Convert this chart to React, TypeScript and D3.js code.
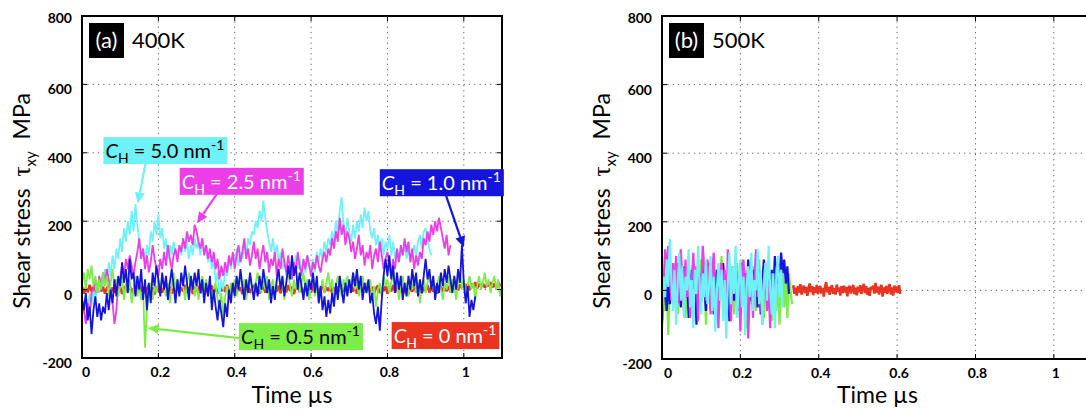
import React, { useRef, useEffect } from 'react';
import * as d3 from 'd3';

// axis ticks (both panels)
const xTicks = [0, 0.2, 0.4, 0.6, 0.8, 1];
const xTickLabels = ['0', '0.2', '0.4', '0.6', '0.8', '1'];
const yTicks = [-200, 0, 200, 400, 600, 800];

// (a) 400K, sampled every 0.005 us
const stepA = 0.005;
const cyanA = [
  -40, -70, -20, -60, -10, -50, 0, -30, 20, -10,
  30, 10, 60, 20, 80, 40, 100, 60, 120, 90,
  150, 110, 180, 140, 200, 160, 230, 170, 250, 190,
  140, 90, 120, 80, 130, 100, 170, 140, 200, 160,
  220, 150, 180, 120, 150, 90, 130, 100, 140, 110,
  90, 130, 100, 150, 110, 140, 90, 130, 100, 150,
  120, 140, 100, 150, 110, 130, 80, 110, 60, 90,
  20, 50, -20, 30, 0, 60, 40, 90, 60, 100,
  80, 120, 70, 110, 90, 140, 100, 150, 130, 170,
  160, 200, 180, 230, 200, 260, 210, 170, 140, 110,
  150, 100, 130, 80, 110, 60, 90, 40, 70, 30,
  80, 50, 100, 60, 90, 40, 80, 50, 100, 70,
  60, 90, 50, 110, 80, 120, 90, 140, 110, 150,
  130, 170, 140, 200, 160, 230, 270, 190, 160, 210,
  170, 140, 190, 150, 200, 170, 220, 180, 240, 200,
  230, 170, 150, 180, 130, 160, 110, 150, 100, 140,
  120, 160, 100, 140, 90, 120, 80, 110, 100, 130,
  90, 120, 80, 110, 130, 100, 140, 160, 120, 170,
  180, 140, 120, 100,
];
const magentaA = [
  -20, -60, -100, -40, -70, -10, 0, 30, -10, 40,
  10, 50, 20, 60, 30, 0, -40, -100, -60, 20,
  30, 70, 40, 90, 60, 100, 70, 40, 80, 110,
  150, 90, 120, 60, 100, 50, 80, 130, 90, 60,
  40, 90, 60, 110, 70, 130, 90, 60, 100, 120,
  80, 130, 110, 150, 120, 170, 140, 160, 130, 190,
  170, 140, 120, 150, 100, 130, 90, 120, 80, 110,
  60, 90, 30, 70, 40, 80, 50, 100, 70, 110,
  60, 100, 130, 80, 110, 150, 90, 120, 70, 100,
  140, 90, 120, 60, 100, 130, 80, 110, 50, 90,
  70, 110, 40, 90, 60, 120, 80, 50, 100, 60,
  30, 80, 50, 110, 70, 40, 90, 60, 100, 70,
  40, 80, 60, 100, 70, 50, 90, 110, 80, 120,
  100, 150, 120, 170, 140, 210, 160, 190, 130, 170,
  150, 110, 140, 90, 120, 160, 100, 130, 70, 110,
  90, 130, 60, 100, 120, 80, 140, 100, 60, 90,
  110, 70, 40, 90, 60, 120, 80, 130, 100, 150,
  110, 140, 80, 120, 60, 100, 70, 110, 90, 150,
  130, 170, 140, 190, 160, 200, 170, 210, 180, 150,
  120, 160, 100, 130,
];
const blueA = [
  -30, -60, -10, -90, -50, -130, -60, -20, -80, -40,
  -90, -50, -70, -10, -60, 0, -40, 30, -20, 40,
  10, 80, 20, 60, -10, 90, 30, 50, -20, 40,
  0, 60, -30, 30, -60, 20, -40, 50, 10, 70,
  30, -20, 50, 0, 40, -30, 20, 60, 10, -40,
  30, -20, 50, 10, 70, 20, -30, 40, 0, 50,
  10, 60, -10, 30, -40, 20, -20, 40, -60, 0,
  -50, -90, -30, -70, -110, -40, -80, 0, -40, 20,
  -20, 40, 0, 60, 10, -30, 30, -10, 50, 10,
  -30, 20, -20, 40, 0, 60, 20, -10, 30, -40,
  10, -30, 30, 60, 0, 40, -20, 20, 70, 30,
  100, 40, 70, 0, 50, 10, -30, 20, -20, 30,
  0, 50, -10, 40, -40, 10, -60, -20, -80, -30,
  -70, -10, -50, 20, -30, 40, 0, -40, 20, -20,
  30, -10, 50, 10, 60, 0, 40, -30, 20, -10,
  30, -40, -10, -70, -100, -50, -120, -30, 40, 90,
  40, 100, 30, 70, -10, 50, 0, 40, -30, 20,
  -20, 40, 0, 60, 10, 50, -20, 30, -10, 40,
  90, 30, 60, 0, 40, -30, 20, -10, 50, 10,
  60, 20, 70, 30, -10, 40, 0, 60, 20, 130,
  20, -40, 10, -80, -30, -60, -20,
];
const greenA = [
  20, 50, 0, 60, 30, 70, 10, 40, -10, 30,
  0, 50, 10, 40, -20, 20, 60, 10, 30, -20,
  10, 40, -30, 20, -10, 30, -40, 0, 40, -20,
  10, -30, 0, -170, -60, -20, 20, -30, 10, -10,
  30, 0, 40, 10, -20, 20, -40, 10, 50, 0,
  30, -10, 40, 10, -30, 20, 50, 0, 30, -20,
  20, -30, 10, 40, 0, 30, -20, 10, -40, 0,
  20, -30, -60, -10, -80, -20, 10, -30, 20, 0,
  30, -20, 20, 50, 0, 30, -30, 10, 40, 0,
  -20, 20, 50, 10, -10, 30, 0, 40, -30, 10,
  30, -20, 20, 50, 0, 30, -30, 20, 50, 10,
  -20, 30, 0, 40, -10, 20, 50, 0, 30, -30,
  10, 40, -20, 20, -40, 0, 30, -10, 20, 50,
  0, 30, -30, 10, 40, 0, -20, 30, 10, 40,
  -10, 20, 50, 0, 30, -20, 10, 40, -10, 20,
  0, 30, -30, 10, -50, 0, 20, -20, 40, 10,
  30, -10, 20, 50, 0, 30, -30, 10, 40, 0,
  20, -20, 30, 0, 40, -10, 20, -40, 10, 30,
  -10, 20, 50, 0, 30, -20, 10, 40, 0, -30,
  20, 0, 40, -10, 30, 10, -30, 20, 50, 0,
  30, -20, 10, 40, 0, 20, -30, 10, 40, 0,
  20, 50, 10, 30, -10, 20, 40, 0, 30, -20,
  10,
];
const redA = [
  10, -12, 5, -8, 14, -5, 8, -14, 3, 12,
  -6, 9, -12, 4, 15, -8, 6, -10, 12, -4,
  8, -13, 5, 10, -7, 13, -9, 4, -12, 7,
  14, -6, 9, -11, 3, 12, -8, 6, -14, 10,
  -5, 11, -9, 7, 13, -4, 8, -12, 5, -7,
  12, -10, 6, -5, 14, -9, 4, 11, -13, 8,
  -6, 10, -11, 5, 13, -8, 7, -4, 12, -10,
  6, -12, 9, -5, 11, -7, 14, -9, 3, 10,
  -8, 12, -4, 7, -13, 9, -6, 11, -10, 5,
  13, -7, 8, -12, 4, 10, -9, 6, -5, 14,
  -10, 7, -6, 12, -11, 5, 9, -8, 13, -4,
  8, -13, 6, 10, -7, 4, -12, 11, -5, 9,
  -9, 13, -6, 8, -11, 5, 12, -8, 7, -4,
  11, -10, 6, -13, 9, -5, 14, -7, 4, 10,
  -8, 12, -6, 9, -12, 5, 11, -9, 7, -5,
  13, -7, 8, -11, 4, 12, -10, 6, -4, 10,
  -12, 8, -5, 13, -9, 6, 11, -7, 4, -10,
  9, -13, 7, -6, 12, -8, 5, 10, -11, 6,
  -4, 13, -9, 8, -6, 11, -12, 5, 9, -7,
  14, -5, 10, -8, 16, 2, 18, -3, 15, 5,
  20, 4, 16, -2, 18, 6, 22, 3, 17, 8,
  19, 5, 15, 10, 22, 6, 18, 4, 20, 12,
  15,
];

// (b) 500K, sampled every 0.004 us; red starts after the others stop
const stepB = 0.004;
const cyanB = [
  -80, 40, -20, 90, 10, 150, 30, -60, 60, -100, 20, 110, -30, 70, -80, 40, 0, 120, -50, 30,
  -110, 60, -10, 130, 20, -70, 50, -20, 90, -40, 10, 100, -60, 40, -120, 0, 80, -30, 60, -90,
  30, -140, 20, 110, -40, 70, -10, 130, -80, 20, 90, -50, 40, -130, 10, 70, -20, 110, -60, 30,
  0, 120, -40, 60, -100, 20, 80, -30, 130, 10, -70, 50, -110, 40, 100, -20, 60, -50,
];
const magentaB = [
  -100, 20, 120, 60, 130, 40, -30, 80, 0, 100, -40, 60, 120, 20, -60, 90, -20, 50, -80, 30,
  110, -10, 70, -90, 40, 0, 130, 60, -30, 90, 20, -70, 50, 110, -40, 10, -110, 40, 80, -20,
  60, -60, 120, 30, -90, 70, 0, 100, -50, 40, -120, 20, 90, -30, 50, -140, 10, 70, -80, 40,
  120, -20, 60, 0, -100, 30, 80, -60, 20, -110, 50, 10, -40, 70, 20,
];
const blueB = [
  -90, -20, 40, -60, 20, -40, 60, 0, 50, -30, 80, 20, -50, 40, 70, -20, 30, -80, 10, 60,
  -40, 20, -100, 0, 50, -30, 70, 10, -60, 40, 80, -20, 30, -70, 10, 60, -40, 50, -10, 80,
  20, -50, 40, -90, 0, 60, -30, 70, 10, -60, 30, 80, -20, 50, -40, 90, 20, -30, 60, 0,
  80, -50, 30, -70, 20, 90, 40, -20, 70, 10, 60, -10, 100, 30, 80, 40, 110, 50, 90, 20, 70, -10,
];
const greenB = [
  -110, 30, -60, 20, -130, 10, 50, -40, 80, 0, -70, 40, 90, -20, 60, -80, 20, 100, -30, 50,
  -90, 10, 70, -50, 30, 90, -20, 60, -100, 0, 40, -60, 80, 20, -40, 60, -80, 30, 100, -10,
  50, -90, 20, 70, -30, 40, -70, 10, 80, -50, 30, 90, -20, 60, -110, 0, 50, -40, 70, 10,
  -60, 30, 90, -30, 50, -80, 20, 60, -40, 30, -90, 10, 50, -60, 40, -100, 20, 60, -50, 30, -80, 50, 0, -40,
];
const redBStart = 0.335;
const stepRedB = 0.003;
const redB = [
  15, -10, 8, -15, 12, -6, 18, -12, 5, 14, -8, 10, -16, 6, 20, -5, 12, -14, 9, -7,
  16, -11, 4, 13, -9, 7, -18, 10, 24, -6, 11, -13, 8, 15, -10, 6, -12, 17, -4, 9,
  -15, 12, -8, 14, -6, 10, -17, 7, 13, -9, 5, 16, -11, 8, -14, 11, -5, 15, -10, 6,
  19, -8, 12, -13, 7, -16, 10, 4, 14, -9, 22, -6, 11, -12, 8, 16, -18, 9, -7, 13,
  -10, 6, 18, -12, 9, -15, 14, -5, 11, -8, 15, -10,
];

const CYAN = '#6ef2f8';
const MAGENTA = '#ec3ee8';
const BLUE = '#1414dc';
const GREEN = '#7cec48';
const RED = '#ea3422';

const FONT = "Lato, 'Open Sans', sans-serif";

// label boxes of panel (a): box top-left and arrow in data units
const labelsA = [
  { value: '5.0', fill: CYAN, text: '#000', at: [0.056, 446], from: [0.167, 372], to: [0.146, 252] },
  { value: '2.5', fill: MAGENTA, text: '#fff', at: [0.256, 356], from: [0.353, 279], to: [0.301, 194] },
  { value: '1.0', fill: BLUE, text: '#fff', at: [0.78, 352], from: [0.953, 276], to: [1.0, 124] },
  { value: '0.5', fill: GREEN, text: '#000', at: [0.411, -98], from: [0.412, -142], to: [0.172, -112] },
  { value: '0', fill: RED, text: '#fff', at: [0.811, -95] },
];

function drawPanel(svg, p) {
  const x = d3.scaleLinear().domain([0, 1.1]).range([p.left, p.right]);
  const y = d3.scaleLinear().domain([-200, 800]).range([p.bottom, p.top]);
  const g = svg.append('g');

  svg.append('clipPath').attr('id', 'clip-' + p.id)
    .append('rect')
    .attr('x', p.left).attr('y', p.top)
    .attr('width', p.right - p.left).attr('height', p.bottom - p.top);

  // dotted grid
  g.append('g').selectAll('line')
    .data(yTicks.filter(v => v > -200 && v < 800))
    .join('line')
    .attr('x1', p.left).attr('x2', p.right)
    .attr('y1', d => y(d)).attr('y2', d => y(d))
    .attr('stroke', '#666').attr('stroke-width', 1).attr('stroke-dasharray', '1.3,4');
  g.append('g').selectAll('line')
    .data(xTicks.filter(v => v > 0))
    .join('line')
    .attr('x1', d => x(d)).attr('x2', d => x(d))
    .attr('y1', p.top).attr('y2', p.bottom)
    .attr('stroke', '#666').attr('stroke-width', 1).attr('stroke-dasharray', '1.3,4');

  const line = d3.line().x(d => x(d[0])).y(d => y(d[1]));
  const lg = g.append('g').attr('clip-path', `url(#clip-${p.id})`);
  p.series.forEach(s => {
    const pts = s.values.map((v, i) => [s.start + i * s.step, v]);
    lg.append('path')
      .attr('d', line(pts))
      .attr('fill', 'none')
      .attr('stroke', s.color)
      .attr('stroke-width', s.width)
      .attr('stroke-linejoin', 'bevel');
  });

  // frame
  g.append('rect')
    .attr('x', p.left).attr('y', p.top)
    .attr('width', p.right - p.left).attr('height', p.bottom - p.top)
    .attr('fill', 'none').attr('stroke', '#000').attr('stroke-width', 2);

  // inward ticks on all sides
  const tk = 5;
  xTicks.forEach(t => {
    g.append('line').attr('x1', x(t)).attr('x2', x(t)).attr('y1', p.bottom).attr('y2', p.bottom - tk).attr('stroke', '#000');
    g.append('line').attr('x1', x(t)).attr('x2', x(t)).attr('y1', p.top).attr('y2', p.top + tk).attr('stroke', '#000');
  });
  yTicks.forEach(v => {
    g.append('line').attr('x1', p.left).attr('x2', p.left + tk).attr('y1', y(v)).attr('y2', y(v)).attr('stroke', '#000');
    g.append('line').attr('x1', p.right).attr('x2', p.right - tk).attr('y1', y(v)).attr('y2', y(v)).attr('stroke', '#000');
  });

  // tick labels
  g.append('g').selectAll('text')
    .data(xTicks)
    .join('text')
    .attr('x', (d, i) => x(d) + (i === 0 ? p.zeroShift : 2))
    .attr('y', p.bottom + 19)
    .attr('text-anchor', 'middle')
    .attr('font-family', FONT).attr('font-weight', 'bold').attr('font-size', 14)
    .text((d, i) => xTickLabels[i]);
  g.append('g').selectAll('text')
    .data(yTicks)
    .join('text')
    .attr('x', p.left - 10)
    .attr('y', d => y(d) + (d === 800 ? 7 : 10))
    .attr('text-anchor', 'end')
    .attr('font-family', FONT).attr('font-weight', 'bold').attr('font-size', 14)
    .text(d => String(d));

  // axis titles
  g.append('text')
    .attr('x', (p.left + p.right) / 2).attr('y', 403)
    .attr('text-anchor', 'middle')
    .attr('font-family', FONT).attr('font-size', 23)
    .text('Time \u00b5s');
  const yt = g.append('text')
    .attr('transform', `translate(${p.left - 52},201) rotate(-90)`)
    .attr('text-anchor', 'middle')
    .attr('font-family', FONT).attr('font-size', 23);
  yt.append('tspan').text('Shear stress\u00a0\u00a0');
  yt.append('tspan').attr('font-family', "'Liberation Serif', serif").attr('font-size', 25).text('\u03c4');
  yt.append('tspan').attr('font-size', 15).attr('dy', 6).text('xy');
  yt.append('tspan').attr('dy', -6).text('\u00a0\u00a0MPa');

  // panel tag
  g.append('rect')
    .attr('x', p.left + 7).attr('y', p.top + 7)
    .attr('width', 35).attr('height', 35).attr('fill', '#000');
  g.append('text')
    .attr('x', p.left + 24.5).attr('y', p.top + 32)
    .attr('text-anchor', 'middle').attr('fill', '#fff')
    .attr('font-family', FONT).attr('font-size', 22)
    .text(p.tag);
  g.append('text')
    .attr('x', p.left + 50).attr('y', p.top + 32)
    .attr('font-family', FONT).attr('font-size', 22)
    .text(p.temp);

  // concentration labels with arrows
  (p.labels || []).forEach(l => {
    if (l.from) {
      const x1 = x(l.from[0]), y1 = y(l.from[1]);
      const x2 = x(l.to[0]), y2 = y(l.to[1]);
      const ang = Math.atan2(y2 - y1, x2 - x1);
      const hl = 11, hw = 5;
      const bx = x2 - hl * Math.cos(ang), by = y2 - hl * Math.sin(ang);
      g.append('line')
        .attr('x1', x1).attr('y1', y1).attr('x2', bx).attr('y2', by)
        .attr('stroke', l.fill).attr('stroke-width', 2.2);
      g.append('path')
        .attr('d', `M${x2},${y2}L${bx + hw * Math.sin(ang)},${by - hw * Math.cos(ang)}L${bx - hw * Math.sin(ang)},${by + hw * Math.cos(ang)}Z`)
        .attr('fill', l.fill);
    }
    const bx0 = x(l.at[0]), by0 = y(l.at[1]);
    const rect = g.append('rect').attr('fill', l.fill);
    const t = g.append('text')
      .attr('x', bx0 + 2).attr('y', by0 + 21)
      .attr('font-family', FONT).attr('font-size', 20).attr('fill', l.text);
    t.append('tspan').attr('font-style', 'italic').text('C');
    t.append('tspan').attr('font-size', 14).attr('dy', 5).text('H');
    t.append('tspan').attr('dy', -5).text(`\u00a0=\u00a0${l.value}\u00a0nm`);
    t.append('tspan').attr('font-size', 14).attr('dy', -8).text('-1');
    const w = (t.node() as SVGTextElement).getComputedTextLength();
    rect.attr('x', bx0).attr('y', by0).attr('width', w + 5).attr('height', 27);
  });
}

export default function App() {
  const svgRef = useRef(null);

  useEffect(() => {
    const svg = d3.select(svgRef.current);
    svg.selectAll('*').remove();

    drawPanel(svg, {
      id: 'a', left: 82, right: 502, top: 16, bottom: 358, zeroShift: 4,
      tag: '(a)', temp: '400K', labels: labelsA,
      series: [
        { values: redA, start: 0, step: stepA, color: RED, width: 2.4 },
        { values: cyanA, start: 0, step: stepA, color: CYAN, width: 1.8 },
        { values: magentaA, start: 0, step: stepA, color: MAGENTA, width: 1.8 },
        { values: greenA, start: 0, step: stepA, color: GREEN, width: 1.8 },
        { values: blueA, start: 0, step: stepA, color: BLUE, width: 1.8 },
      ],
    });
    drawPanel(svg, {
      id: 'b', left: 662, right: 1093, top: 16, bottom: 359, zeroShift: 6,
      tag: '(b)', temp: '500K', labels: [],
      series: [
        { values: greenB, start: 0, step: stepB, color: GREEN, width: 2.2 },
        { values: blueB, start: 0, step: stepB, color: BLUE, width: 2.2 },
        { values: magentaB, start: 0, step: stepB, color: MAGENTA, width: 2.2 },
        { values: cyanB, start: 0, step: stepB, color: CYAN, width: 2.2 },
        { values: redB, start: redBStart, step: stepRedB, color: RED, width: 2.6 },
      ],
    });
  }, []);

  return (
    <svg
      ref={svgRef}
      width={1086}
      height={410}
      style={{ position: 'absolute', left: 0, top: 0, background: '#fff' }}
    />
  );
}
